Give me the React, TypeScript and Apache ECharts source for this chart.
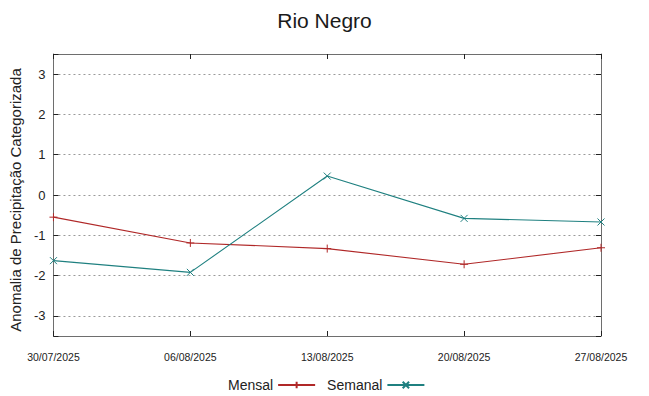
import React, { useEffect, useRef } from "react";
import * as echarts from "echarts";

const dates = ["30/07/2025", "06/08/2025", "13/08/2025", "20/08/2025", "27/08/2025"];
const mensal = [-0.55, -1.19, -1.33, -1.72, -1.31];
const semanal = [-1.63, -1.92, 0.47, -0.58, -0.67];
const yMin = -3.5;
const yMax = 3.5;

const FONT = "'Liberation Sans', Arial, sans-serif";
const RED = "#b02828";
const TEAL = "#1f8080";
const FRAME = "#6e6e6e";

const plusSymbol = "path://M5,0V10M0,5H10";
const crossSymbol = "path://M0,0L10,10M10,0L0,10";

export default function App() {
  const ref = useRef<HTMLDivElement>(null);
  useEffect(() => {
    document.body.style.margin = "0";
    const chart = echarts.init(ref.current!, null, { renderer: "svg" });
    const axisLine = { show: true, onZero: false, lineStyle: { color: FRAME, width: 1 } };
    const tickInside = { show: true, inside: true, length: 5, lineStyle: { color: "#222", width: 1 } };
    chart.setOption({
      animation: false,
      backgroundColor: "#ffffff",
      textStyle: { fontFamily: FONT },
      title: {
        text: "Rio Negro",
        left: "center",
        top: 5,
        textStyle: { fontFamily: FONT, fontSize: 21, fontWeight: "normal", color: "#1a1a1a" },
      },
      legend: {
        top: 373,
        left: 223,
        align: "right",
        itemWidth: 37,
        itemHeight: 8,
        itemGap: 11,
        textStyle: { fontFamily: FONT, fontSize: 14, color: "#222" },
        data: ["Mensal", "Semanal"],
      },
      grid: { left: 50, right: 48, top: 54, bottom: 60, containLabel: false },
      xAxis: [
        {
          type: "category",
          data: dates,
          boundaryGap: false,
          position: "bottom",
          axisLine,
          axisTick: tickInside,
          axisLabel: { fontFamily: FONT, fontSize: 10.5, color: "#222", margin: 15 },
          splitLine: { show: false },
        },
        {
          type: "category",
          data: dates,
          boundaryGap: false,
          position: "top",
          axisLine,
          axisTick: tickInside,
          axisLabel: { show: false },
          splitLine: { show: false },
        },
      ],
      yAxis: [
        {
          type: "value",
          min: yMin,
          max: yMax,
          splitNumber: 7,
          position: "left",
          name: "Anomalia de Precipitação Categorizada",
          nameLocation: "middle",
          nameGap: 25,
          nameTextStyle: { fontFamily: FONT, fontSize: 15, color: "#222", padding: [0, 10, 0, 0] },
          axisLine,
          axisTick: tickInside,
          axisLabel: {
            fontFamily: FONT,
            fontSize: 13,
            color: "#222",
            margin: 8,
            formatter: (v: number) => (Number.isInteger(v) ? String(v) : ""),
          },
          splitLine: { show: true, lineStyle: { color: "#9a9a9a", type: [2, 3], width: 1 } },
        },
        {
          type: "value",
          min: yMin,
          max: yMax,
          splitNumber: 7,
          position: "right",
          axisLine,
          axisTick: tickInside,
          axisLabel: { show: false },
          splitLine: { show: false },
        },
      ],
      series: [
        {
          name: "Mensal",
          type: "line",
          data: mensal,
          symbol: plusSymbol,
          symbolSize: 8,
          showSymbol: true,
          lineStyle: { color: RED, width: 1.1 },
          itemStyle: { color: "transparent", borderColor: RED, borderWidth: 1 },
        },
        {
          name: "Semanal",
          type: "line",
          data: semanal,
          symbol: crossSymbol,
          symbolSize: 7,
          showSymbol: true,
          lineStyle: { color: TEAL, width: 1.1 },
          itemStyle: { color: "transparent", borderColor: TEAL, borderWidth: 1 },
        },
      ],
    });
    return () => chart.dispose();
  }, []);
  return <div ref={ref} style={{ width: 649, height: 396 }} />;
}
